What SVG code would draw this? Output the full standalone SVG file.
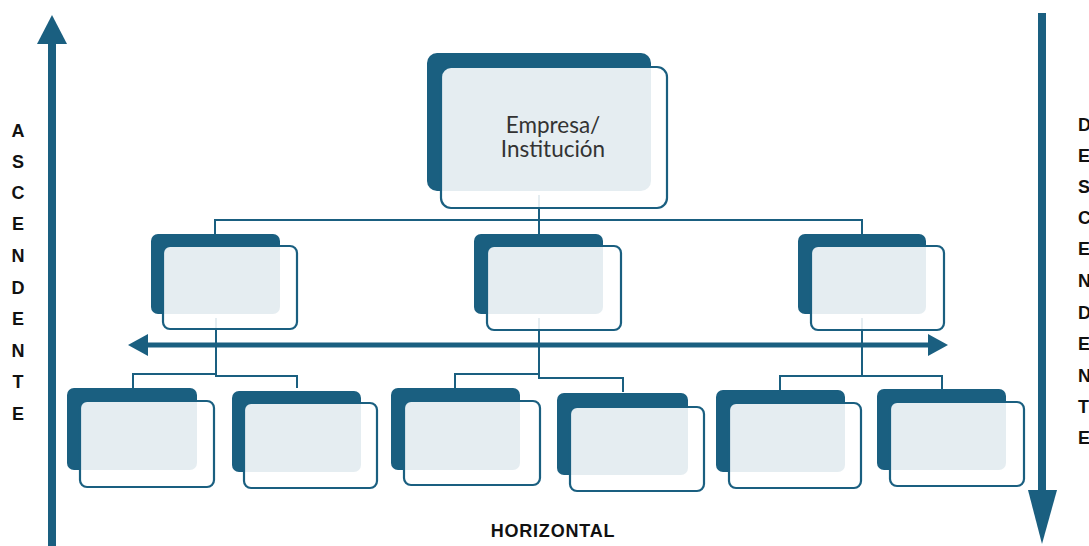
<svg xmlns="http://www.w3.org/2000/svg" width="1089" height="546" viewBox="0 0 1089 546">
<style>
.dk{fill:#1a5f80}
.ov{fill:#ffffff;fill-opacity:0.89;stroke:#1a5f80;stroke-width:2.2}
.ln{fill:none;stroke:#1a5f80;stroke-width:2}
.lt{font-family:"Liberation Sans",Arial,sans-serif;font-weight:bold;font-size:18px;fill:#111}
.tt{font-family:Lato,"Open Sans",sans-serif;font-weight:400;font-size:22.5px;fill:#333;text-anchor:middle}
</style>
<rect width="1089" height="546" fill="#ffffff"/>
<g id="connectors">
<path class="ln" d="M539 195V220M215 234V220H862V234M539 220V234"/>
<path class="ln" d="M216 318V375M133 389V374H216V376H297V388"/>
<path class="ln" d="M539 318V378M455 388V374H539V378H623V392"/>
<path class="ln" d="M862 318V376M780 390V376H942V390"/>
<g id="horizontal-arrow">
<rect class="dk" x="146" y="342.5" width="784" height="5"/>
<polygon class="dk" points="128,345 148,334 148,356"/>
<polygon class="dk" points="948,345 928,334 928,356"/>
</g>
<g id="up-arrow">
<rect class="dk" x="48" y="40" width="8" height="506"/>
<polygon class="dk" points="52,15 37,44 67,44"/>
</g>
<g id="down-arrow">
<rect class="dk" x="1038" y="13" width="8" height="480"/>
<polygon class="dk" points="1042,544 1028,490 1057,490"/>
</g>
</g>
<g id="n-top">
<rect class="dk" x="427" y="53" width="224" height="138" rx="10"/>
<rect class="ov" x="441" y="67" width="226" height="141" rx="10"/>
<text class="tt" x="553" y="133">Empresa/</text>
<text class="tt" x="553" y="157">Institución</text>
</g>
<g id="n-m1"><rect class="dk" x="151" y="234" width="129" height="80" rx="7"/><rect class="ov" x="163" y="246" width="134" height="83" rx="7"/></g>
<g id="n-m2"><rect class="dk" x="474" y="234" width="129" height="80" rx="7"/><rect class="ov" x="487" y="246" width="134" height="84" rx="7"/></g>
<g id="n-m3"><rect class="dk" x="798" y="234" width="128" height="80" rx="7"/><rect class="ov" x="811" y="246" width="133" height="84" rx="7"/></g>
<g id="n-b1"><rect class="dk" x="67" y="388" width="130" height="82" rx="7"/><rect class="ov" x="80" y="401" width="134" height="86" rx="7"/></g>
<g id="n-b2"><rect class="dk" x="232" y="391" width="129" height="81" rx="7"/><rect class="ov" x="244" y="403" width="133" height="85" rx="7"/></g>
<g id="n-b3"><rect class="dk" x="391" y="388" width="129" height="82" rx="7"/><rect class="ov" x="404" y="401" width="136" height="84" rx="7"/></g>
<g id="n-b4"><rect class="dk" x="557" y="393" width="131" height="82" rx="7"/><rect class="ov" x="570" y="407" width="134" height="84" rx="7"/></g>
<g id="n-b5"><rect class="dk" x="716" y="390" width="129" height="82" rx="7"/><rect class="ov" x="729" y="403" width="132" height="85" rx="7"/></g>
<g id="n-b6"><rect class="dk" x="877" y="389" width="129" height="81" rx="7"/><rect class="ov" x="890" y="402" width="134" height="84" rx="7"/></g>
<g id="labels">
<text class="lt" text-anchor="middle" x="18"><tspan x="18" y="137">A</tspan><tspan x="18" y="168">S</tspan><tspan x="18" y="199">C</tspan><tspan x="18" y="230">E</tspan><tspan x="18" y="262">N</tspan><tspan x="18" y="294">D</tspan><tspan x="18" y="325">E</tspan><tspan x="18" y="357">N</tspan><tspan x="18" y="388">T</tspan><tspan x="18" y="420">E</tspan></text>
<text class="lt" x="1078"><tspan x="1078" y="131">D</tspan><tspan x="1078" y="162">E</tspan><tspan x="1078" y="193">S</tspan><tspan x="1078" y="224">C</tspan><tspan x="1078" y="255">E</tspan><tspan x="1078" y="287">N</tspan><tspan x="1078" y="319">D</tspan><tspan x="1078" y="350">E</tspan><tspan x="1078" y="382">N</tspan><tspan x="1078" y="413">T</tspan><tspan x="1078" y="444">E</tspan></text>
<text class="lt" x="553" y="537" text-anchor="middle" font-size="21" letter-spacing="0.8">HORIZONTAL</text>
</g>
</svg>
